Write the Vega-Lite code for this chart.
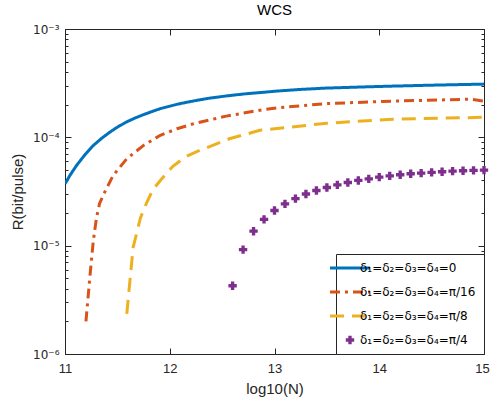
{
  "$schema": "https://vega.github.io/schema/vega-lite/v6.json",
  "width": 419,
  "height": 325,
  "autosize": "none",
  "padding": {"left": 65, "top": 29, "right": 6, "bottom": 51},
  "background": "white",
  "config": {
    "font": "Liberation Sans",
    "view": {"stroke": "#262626", "strokeWidth": 1},
    "axis": {
      "domainColor": "#262626",
      "tickColor": "#262626",
      "labelColor": "#262626",
      "titleColor": "#262626",
      "labelFontSize": 13,
      "titleFontSize": 15,
      "titleFontWeight": "normal",
      "grid": false,
      "labelOverlap": false,
      "labelFlush": false
    }
  },
  "title": {"text": "WCS", "fontSize": 15, "fontWeight": "normal", "color": "black", "offset": 5},
  "data": {
    "values": [
      {"s": "δ₁=δ₂=δ₃=δ₄=0", "x": 11.0, "r": 3.72e-5},
      {"s": "δ₁=δ₂=δ₃=δ₄=0", "x": 11.05, "r": 4.5e-5},
      {"s": "δ₁=δ₂=δ₃=δ₄=0", "x": 11.11, "r": 5.5e-5},
      {"s": "δ₁=δ₂=δ₃=δ₄=0", "x": 11.19, "r": 6.9e-5},
      {"s": "δ₁=δ₂=δ₃=δ₄=0", "x": 11.27, "r": 8.4e-5},
      {"s": "δ₁=δ₂=δ₃=δ₄=0", "x": 11.35, "r": 9.8e-5},
      {"s": "δ₁=δ₂=δ₃=δ₄=0", "x": 11.43, "r": 1.12e-4},
      {"s": "δ₁=δ₂=δ₃=δ₄=0", "x": 11.51, "r": 1.26e-4},
      {"s": "δ₁=δ₂=δ₃=δ₄=0", "x": 11.59, "r": 1.39e-4},
      {"s": "δ₁=δ₂=δ₃=δ₄=0", "x": 11.67, "r": 1.51e-4},
      {"s": "δ₁=δ₂=δ₃=δ₄=0", "x": 11.75, "r": 1.62e-4},
      {"s": "δ₁=δ₂=δ₃=δ₄=0", "x": 11.83, "r": 1.73e-4},
      {"s": "δ₁=δ₂=δ₃=δ₄=0", "x": 11.91, "r": 1.84e-4},
      {"s": "δ₁=δ₂=δ₃=δ₄=0", "x": 12.07, "r": 2.02e-4},
      {"s": "δ₁=δ₂=δ₃=δ₄=0", "x": 12.23, "r": 2.17e-4},
      {"s": "δ₁=δ₂=δ₃=δ₄=0", "x": 12.38, "r": 2.3e-4},
      {"s": "δ₁=δ₂=δ₃=δ₄=0", "x": 12.54, "r": 2.41e-4},
      {"s": "δ₁=δ₂=δ₃=δ₄=0", "x": 12.7, "r": 2.51e-4},
      {"s": "δ₁=δ₂=δ₃=δ₄=0", "x": 12.86, "r": 2.59e-4},
      {"s": "δ₁=δ₂=δ₃=δ₄=0", "x": 13.04, "r": 2.68e-4},
      {"s": "δ₁=δ₂=δ₃=δ₄=0", "x": 13.25, "r": 2.77e-4},
      {"s": "δ₁=δ₂=δ₃=δ₄=0", "x": 13.5, "r": 2.85e-4},
      {"s": "δ₁=δ₂=δ₃=δ₄=0", "x": 13.8, "r": 2.91e-4},
      {"s": "δ₁=δ₂=δ₃=δ₄=0", "x": 14.13, "r": 2.97e-4},
      {"s": "δ₁=δ₂=δ₃=δ₄=0", "x": 14.5, "r": 3.03e-4},
      {"s": "δ₁=δ₂=δ₃=δ₄=0", "x": 15.0, "r": 3.1e-4},
      {"s": "δ₁=δ₂=δ₃=δ₄=π/16", "x": 11.2, "r": 2.0e-6},
      {"s": "δ₁=δ₂=δ₃=δ₄=π/16", "x": 11.24, "r": 5.5e-6},
      {"s": "δ₁=δ₂=δ₃=δ₄=π/16", "x": 11.27, "r": 1.1e-5},
      {"s": "δ₁=δ₂=δ₃=δ₄=π/16", "x": 11.3, "r": 1.8e-5},
      {"s": "δ₁=δ₂=δ₃=δ₄=π/16", "x": 11.33, "r": 2.45e-5},
      {"s": "δ₁=δ₂=δ₃=δ₄=π/16", "x": 11.37, "r": 3.0e-5},
      {"s": "δ₁=δ₂=δ₃=δ₄=π/16", "x": 11.46, "r": 4.45e-5},
      {"s": "δ₁=δ₂=δ₃=δ₄=π/16", "x": 11.59, "r": 6.35e-5},
      {"s": "δ₁=δ₂=δ₃=δ₄=π/16", "x": 11.75, "r": 8.43e-5},
      {"s": "δ₁=δ₂=δ₃=δ₄=π/16", "x": 11.91, "r": 1.045e-4},
      {"s": "δ₁=δ₂=δ₃=δ₄=π/16", "x": 12.07, "r": 1.2e-4},
      {"s": "δ₁=δ₂=δ₃=δ₄=π/16", "x": 12.23, "r": 1.34e-4},
      {"s": "δ₁=δ₂=δ₃=δ₄=π/16", "x": 12.54, "r": 1.57e-4},
      {"s": "δ₁=δ₂=δ₃=δ₄=π/16", "x": 12.86, "r": 1.78e-4},
      {"s": "δ₁=δ₂=δ₃=δ₄=π/16", "x": 13.04, "r": 1.88e-4},
      {"s": "δ₁=δ₂=δ₃=δ₄=π/16", "x": 13.5, "r": 2.05e-4},
      {"s": "δ₁=δ₂=δ₃=δ₄=π/16", "x": 14.13, "r": 2.16e-4},
      {"s": "δ₁=δ₂=δ₃=δ₄=π/16", "x": 14.87, "r": 2.25e-4},
      {"s": "δ₁=δ₂=δ₃=δ₄=π/16", "x": 15.0, "r": 2.16e-4},
      {"s": "δ₁=δ₂=δ₃=δ₄=π/8", "x": 11.59, "r": 2.35e-6},
      {"s": "δ₁=δ₂=δ₃=δ₄=π/8", "x": 11.65, "r": 9.6e-6},
      {"s": "δ₁=δ₂=δ₃=δ₄=π/8", "x": 11.72, "r": 1.8e-5},
      {"s": "δ₁=δ₂=δ₃=δ₄=π/8", "x": 11.78, "r": 2.5e-5},
      {"s": "δ₁=δ₂=δ₃=δ₄=π/8", "x": 11.84, "r": 3.3e-5},
      {"s": "δ₁=δ₂=δ₃=δ₄=π/8", "x": 11.91, "r": 4.0e-5},
      {"s": "δ₁=δ₂=δ₃=δ₄=π/8", "x": 12.03, "r": 5.4e-5},
      {"s": "δ₁=δ₂=δ₃=δ₄=π/8", "x": 12.15, "r": 6.6e-5},
      {"s": "δ₁=δ₂=δ₃=δ₄=π/8", "x": 12.29, "r": 7.6e-5},
      {"s": "δ₁=δ₂=δ₃=δ₄=π/8", "x": 12.57, "r": 9.7e-5},
      {"s": "δ₁=δ₂=δ₃=δ₄=π/8", "x": 12.86, "r": 1.16e-4},
      {"s": "δ₁=δ₂=δ₃=δ₄=π/8", "x": 13.5, "r": 1.35e-4},
      {"s": "δ₁=δ₂=δ₃=δ₄=π/8", "x": 14.13, "r": 1.47e-4},
      {"s": "δ₁=δ₂=δ₃=δ₄=π/8", "x": 15.0, "r": 1.53e-4},
      {"s": "δ₁=δ₂=δ₃=δ₄=π/4", "x": 12.6, "r": 4.27e-6},
      {"s": "δ₁=δ₂=δ₃=δ₄=π/4", "x": 12.7, "r": 9.2e-6},
      {"s": "δ₁=δ₂=δ₃=δ₄=π/4", "x": 12.8, "r": 1.36e-5},
      {"s": "δ₁=δ₂=δ₃=δ₄=π/4", "x": 12.9, "r": 1.75e-5},
      {"s": "δ₁=δ₂=δ₃=δ₄=π/4", "x": 13.0, "r": 2.11e-5},
      {"s": "δ₁=δ₂=δ₃=δ₄=π/4", "x": 13.1, "r": 2.43e-5},
      {"s": "δ₁=δ₂=δ₃=δ₄=π/4", "x": 13.2, "r": 2.72e-5},
      {"s": "δ₁=δ₂=δ₃=δ₄=π/4", "x": 13.3, "r": 3.0e-5},
      {"s": "δ₁=δ₂=δ₃=δ₄=π/4", "x": 13.4, "r": 3.23e-5},
      {"s": "δ₁=δ₂=δ₃=δ₄=π/4", "x": 13.5, "r": 3.44e-5},
      {"s": "δ₁=δ₂=δ₃=δ₄=π/4", "x": 13.6, "r": 3.64e-5},
      {"s": "δ₁=δ₂=δ₃=δ₄=π/4", "x": 13.7, "r": 3.83e-5},
      {"s": "δ₁=δ₂=δ₃=δ₄=π/4", "x": 13.8, "r": 4.0e-5},
      {"s": "δ₁=δ₂=δ₃=δ₄=π/4", "x": 13.9, "r": 4.14e-5},
      {"s": "δ₁=δ₂=δ₃=δ₄=π/4", "x": 14.0, "r": 4.29e-5},
      {"s": "δ₁=δ₂=δ₃=δ₄=π/4", "x": 14.1, "r": 4.41e-5},
      {"s": "δ₁=δ₂=δ₃=δ₄=π/4", "x": 14.2, "r": 4.51e-5},
      {"s": "δ₁=δ₂=δ₃=δ₄=π/4", "x": 14.3, "r": 4.61e-5},
      {"s": "δ₁=δ₂=δ₃=δ₄=π/4", "x": 14.4, "r": 4.67e-5},
      {"s": "δ₁=δ₂=δ₃=δ₄=π/4", "x": 14.5, "r": 4.75e-5},
      {"s": "δ₁=δ₂=δ₃=δ₄=π/4", "x": 14.6, "r": 4.81e-5},
      {"s": "δ₁=δ₂=δ₃=δ₄=π/4", "x": 14.7, "r": 4.87e-5},
      {"s": "δ₁=δ₂=δ₃=δ₄=π/4", "x": 14.8, "r": 4.92e-5},
      {"s": "δ₁=δ₂=δ₃=δ₄=π/4", "x": 14.9, "r": 4.95e-5},
      {"s": "δ₁=δ₂=δ₃=δ₄=π/4", "x": 15.0, "r": 4.98e-5}
    ]
  },
  "layer": [
    {
      "transform": [{"filter": "datum.s !== 'δ₁=δ₂=δ₃=δ₄=π/4'"}],
      "mark": {"type": "line", "strokeWidth": 3, "strokeCap": "butt", "clip": true},
      "encoding": {
        "x": {
          "field": "x", "type": "quantitative",
          "scale": {"domain": [11, 15], "nice": false, "zero": false},
          "axis": {
            "orient": "bottom", "values": [11, 12, 13, 14, 15], "format": "d",
            "title": "log10(N)", "titlePadding": 6,
            "tickSize": -6, "labelPadding": 14,
            "labelOffset": {"condition": {"test": "datum.value == 15", "value": -2}, "value": 0}
          }
        },
        "y": {
          "field": "r", "type": "quantitative",
          "scale": {"type": "log", "domain": [0.000001, 0.001], "nice": false},
          "axis": {
            "orient": "left",
            "title": "R(bit/pulse)",
            "titlePadding": 7,
            "labelFont": "DejaVu Sans", "labelFontSize": 12, "labelPadding": 12,
            "values": [0.000001, 0.000002, 0.000003, 0.000004, 0.000005, 0.000006, 0.000007, 0.000008, 0.000009, 0.00001, 0.00002, 0.00003, 0.00004, 0.00005, 0.00006, 0.00007, 0.00008, 0.00009, 0.0001, 0.0002, 0.0003, 0.0004, 0.0005, 0.0006, 0.0007, 0.0008, 0.0009, 0.001],
            "labelExpr": "datum.value == 0.001 ? '10⁻³' : datum.value == 0.0001 ? '10⁻⁴' : datum.value == 0.00001 ? '10⁻⁵' : datum.value == 0.000001 ? '10⁻⁶' : ''",
            "tickSize": {"condition": {"test": "indexof([0.001, 0.0001, 0.00001, 0.000001], datum.value) >= 0", "value": -6}, "value": -3}
          }
        },
        "color": {
          "field": "s", "type": "nominal", "title": null,
          "scale": {
            "domain": ["δ₁=δ₂=δ₃=δ₄=0", "δ₁=δ₂=δ₃=δ₄=π/16", "δ₁=δ₂=δ₃=δ₄=π/8", "δ₁=δ₂=δ₃=δ₄=π/4"],
            "range": ["#0072BD", "#D95319", "#EDB120", "#7E2F8E"]
          },
          "legend": {
            "orient": "bottom-right", "offset": 0, "padding": 8,
            "strokeColor": "#262626", "fillColor": "white",
            "labelFont": "DejaVu Sans", "labelFontSize": 12, "labelColor": "black", "labelLimit": 300,
            "symbolType": "stroke", "symbolSize": 1600, "symbolStrokeWidth": 3,
            "rowPadding": 12, "labelOffset": 4,
            "encode": {
              "symbols": {
                "update": {
                  "shape": {"signal": "datum.index === 3 ? 'cross' : 'stroke'"},
                  "size": {"signal": "datum.index === 3 ? 70 : 1600"},
                  "fill": {"signal": "datum.index === 3 ? '#7E2F8E' : 'transparent'"},
                  "strokeWidth": {"signal": "datum.index === 3 ? 0 : 3"}
                }
              }
            }
          }
        },
        "strokeDash": {
          "field": "s", "type": "nominal", "title": null,
          "scale": {
            "domain": ["δ₁=δ₂=δ₃=δ₄=0", "δ₁=δ₂=δ₃=δ₄=π/16", "δ₁=δ₂=δ₃=δ₄=π/8", "δ₁=δ₂=δ₃=δ₄=π/4"],
            "range": [[1, 0], [10, 5, 3, 5], [14, 8], [1, 0]]
          }
        }
      }
    },
    {
      "transform": [{"filter": "datum.s === 'δ₁=δ₂=δ₃=δ₄=π/4'"}],
      "mark": {"type": "point", "shape": "cross", "filled": true, "size": 70, "opacity": 1},
      "encoding": {
        "x": {
          "field": "x", "type": "quantitative",
          "axis": {"orient": "top", "values": [11, 12, 13, 14, 15], "labels": false, "title": null, "tickSize": -6}
        },
        "y": {
          "field": "r", "type": "quantitative",
          "axis": {
            "orient": "right", "labels": false, "title": null,
            "values": [0.000001, 0.000002, 0.000003, 0.000004, 0.000005, 0.000006, 0.000007, 0.000008, 0.000009, 0.00001, 0.00002, 0.00003, 0.00004, 0.00005, 0.00006, 0.00007, 0.00008, 0.00009, 0.0001, 0.0002, 0.0003, 0.0004, 0.0005, 0.0006, 0.0007, 0.0008, 0.0009, 0.001],
            "tickSize": {"condition": {"test": "indexof([0.001, 0.0001, 0.00001, 0.000001], datum.value) >= 0", "value": -6}, "value": -3}
          }
        },
        "color": {"field": "s", "type": "nominal", "title": null}
      }
    }
  ],
  "resolve": {"axis": {"x": "independent", "y": "independent"}}
}
